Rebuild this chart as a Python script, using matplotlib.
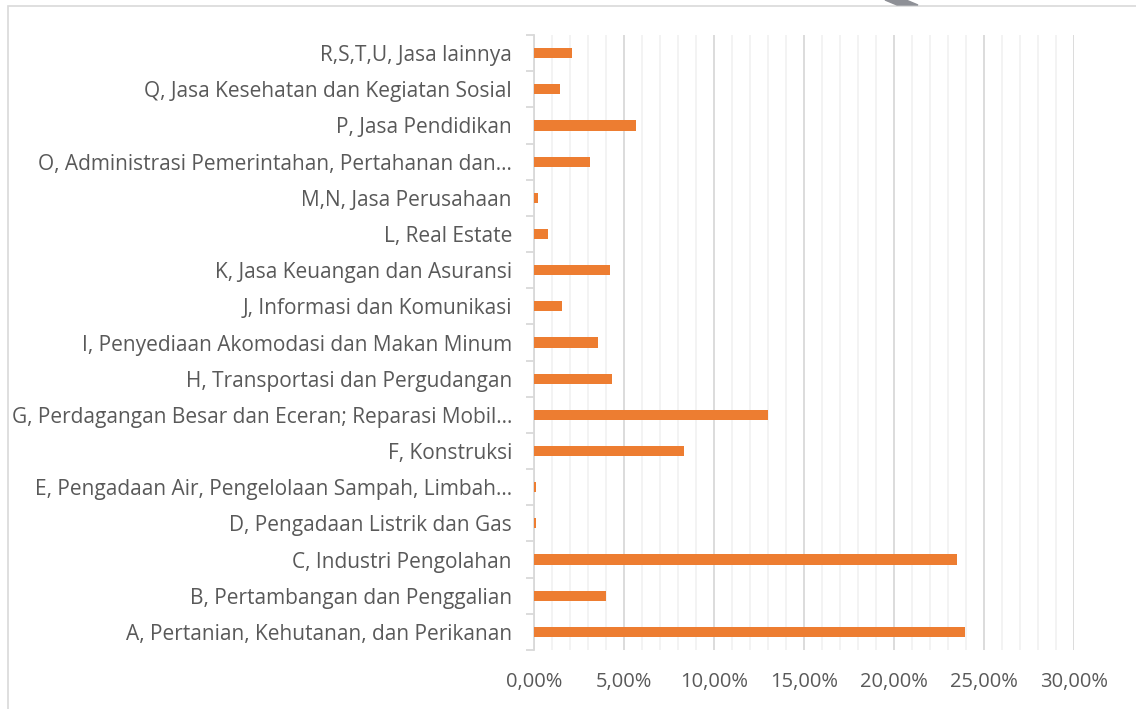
import matplotlib.pyplot as plt
from matplotlib.ticker import MultipleLocator, FuncFormatter
from matplotlib.patches import Rectangle, Polygon

# sectors listed bottom (A) to top (R,S,T,U)
sectors = [
    "A, Pertanian, Kehutanan, dan Perikanan",
    "B, Pertambangan dan Penggalian",
    "C, Industri Pengolahan",
    "D, Pengadaan Listrik dan Gas",
    "E, Pengadaan Air, Pengelolaan Sampah, Limbah\u2026",
    "F, Konstruksi",
    "G, Perdagangan Besar dan Eceran; Reparasi Mobil\u2026",
    "H, Transportasi dan Pergudangan",
    "I, Penyediaan Akomodasi dan Makan Minum",
    "J, Informasi dan Komunikasi",
    "K, Jasa Keuangan dan Asuransi",
    "L, Real Estate",
    "M,N, Jasa Perusahaan",
    "O, Administrasi Pemerintahan, Pertahanan dan\u2026",
    "P, Jasa Pendidikan",
    "Q, Jasa Kesehatan dan Kegiatan Sosial",
    "R,S,T,U, Jasa lainnya",
]
shares = [23.95, 4.0, 23.5, 0.1, 0.1, 8.33, 13.0, 4.33, 3.55, 1.55,
          4.2, 0.78, 0.22, 3.1, 5.67, 1.44, 2.1]

plt.rcParams['font.family'] = ['Open Sans', 'DejaVu Sans']
text_col = '#595959'

fig = plt.figure(figsize=(11.36, 7.09), dpi=100)
ax = fig.add_axes([534/1136, 1-650/709, 540/1136, 615/709])

ypos = list(range(len(sectors)))
ax.barh(ypos, shares, height=0.28, color='#ED7D31', zorder=3)

ax.set_xlim(0, 30)
ax.set_ylim(-0.5, len(sectors)-0.5)
ax.xaxis.set_major_locator(MultipleLocator(5))
ax.xaxis.set_minor_locator(MultipleLocator(1))
ax.xaxis.set_major_formatter(FuncFormatter(lambda v, p: f"{v:.2f}%".replace('.', ',')))
ax.grid(which='major', axis='x', color='#D9D9D9', lw=1.3, zorder=1)
ax.grid(which='minor', axis='x', color='#F2F2F2', lw=1.3, zorder=0)
ax.tick_params(axis='x', which='both', length=0, labelsize=14.5, colors=text_col, pad=16)

ax.set_yticks(ypos)
ax.set_yticklabels([s + ' ' for s in sectors])
ax.set_yticks([y + 0.5 for y in [-1] + ypos], minor=True)
ax.tick_params(axis='y', which='major', length=0, labelsize=15, colors=text_col, pad=12)
ax.tick_params(axis='y', which='minor', length=6, color='#D9D9D9', width=1.3)

for s in ['top', 'right', 'bottom']:
    ax.spines[s].set_visible(False)
ax.spines['left'].set_color('#D9D9D9')
ax.spines['left'].set_linewidth(1.3)

# chart area border and screenshot artifact
fig.patches.append(Rectangle((8/1136, -0.1), 1.2, 1 - 6/709 + 0.1, transform=fig.transFigure,
                             fill=False, edgecolor='#D9D9D9', lw=1.2))
fig.patches.append(Polygon([(885/1136, 1), (906/1136, 1), (918/1136, 1-5/709), (897/1136, 1-5/709)],
                           closed=True, transform=fig.transFigure, color='#8E9096'))

fig.savefig('out.png', dpi=100)
